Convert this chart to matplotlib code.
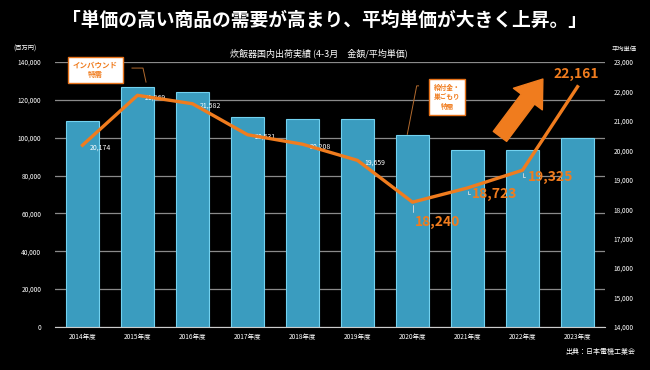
import matplotlib
matplotlib.use('Agg')
import matplotlib.pyplot as plt
from matplotlib.ticker import FuncFormatter

plt.rcParams['font.family'] = ['Noto Sans CJK JP', 'DejaVu Sans']

years = ['2014年度', '2015年度', '2016年度', '2017年度', '2018年度',
         '2019年度', '2020年度', '2021年度', '2022年度', '2023年度']
amount = [109000, 127000, 124200, 111200, 110100, 110100, 101600, 93500, 93500, 100000]  # 百万円
unit_price = [20174, 21869, 21582, 20531, 20208, 19659, 18240, 18723, 19325, 22161]  # 円

orange = '#f07c1e'
x = list(range(len(years)))

fig = plt.figure(figsize=(6.5, 3.7), dpi=100, facecolor='black')
ax = fig.add_axes([0.0846, 0.1162, 0.8462, 0.7162])
ax.set_facecolor('black')

ax.bar(x, amount, width=0.6, color='#3a9cbf', edgecolor='#72d2f0', linewidth=0.8, zorder=2)
ax.set_xlim(-0.5, 9.5)
ax.set_ylim(0, 140000)
ax.set_yticks(range(0, 140001, 20000))
ax.yaxis.set_major_formatter(FuncFormatter(lambda v, p: f'{int(v):,}'))
ax.yaxis.grid(True, color='#8a8a8a', lw=0.9)
ax.set_axisbelow(True)
for s in ['top', 'left', 'right']:
    ax.spines[s].set_visible(False)
ax.spines['bottom'].set_color('#cccccc')
ax.tick_params(axis='y', length=0, colors='white', labelsize=4.7, pad=10)
ax.set_xticks(x, years)
ax.tick_params(axis='x', length=0, colors='white', labelsize=4.7, pad=4)

ax2 = ax.twinx()
ax2.set_ylim(14000, 23000)
ax2.set_yticks(range(14000, 23001, 1000))
ax2.yaxis.set_major_formatter(FuncFormatter(lambda v, p: f'{int(v):,}'))
ax2.tick_params(axis='y', length=0, colors='white', labelsize=4.7, pad=6)
for s in ax2.spines.values():
    s.set_visible(False)
ax2.plot(x, unit_price, color=orange, lw=2.4, zorder=5, solid_joinstyle='round')

# small white value labels
for i in range(6):
    ax2.annotate(f'{unit_price[i]:,}', (x[i], unit_price[i]), xytext=(5, -1.5),
                 textcoords='offset points', color='white', fontsize=5, va='center')

# orange value labels with leader lines
offsets = {6: (2, -14), 7: (3.5, -4.5), 8: (4, -5)}
for i, off in offsets.items():
    ax2.annotate(f'{unit_price[i]:,}', (x[i], unit_price[i]), xytext=off,
                 textcoords='offset points', color=orange, fontsize=10, fontweight='bold',
                 va='center', ha='left',
                 arrowprops=dict(arrowstyle='-', color='#dddddd', lw=0.6, shrinkA=0, shrinkB=2,
                                 connectionstyle='angle,angleA=0,angleB=90,rad=0'))
ax2.annotate(f'{unit_price[9]:,}', (x[9], unit_price[9]), xytext=(-1, 9),
             textcoords='offset points', color=orange, fontsize=10, fontweight='bold',
             va='center', ha='center')

# big rising arrow
ax.annotate('', xy=(8.37, 131000), xytext=(7.59, 100700),
            arrowprops=dict(arrowstyle='simple,head_length=1.8,head_width=2.6,tail_width=1.2',
                            color=orange, mutation_scale=10, shrinkA=0, shrinkB=0), zorder=6)

# callout boxes
box = dict(boxstyle='square,pad=0.7', fc='white', ec='#e8731a', lw=1)
fig.text(0.147, 0.811, 'インバウンド\n特需', color=orange, fontsize=5.4, fontweight='bold',
         ha='center', va='center', linespacing=1.3, bbox=box)
fig.text(0.688, 0.738, '給付金・\n巣ごもり\n特需', color=orange, fontsize=4.8, fontweight='bold',
         ha='center', va='center', linespacing=1.4, bbox=box)
ax.plot([0.9, 1.1, 1.155], [136800, 136800, 129400], color='#b36b2e', lw=0.7, zorder=3)
ax.plot([6.11, 6.076, 5.905], [127400, 127400, 101800], color='#b36b2e', lw=0.7, zorder=3)

# titles and units
fig.text(0.5, 0.945, '「単価の高い商品の需要が高まり、平均単価が大きく上昇。」', color='white',
         fontsize=13.5, fontweight='bold', ha='center', va='center')
fig.text(0.49, 0.857, '炊飯器国内出荷実績 (4-3月　金額/平均単価)', color='white',
         fontsize=6.5, ha='center', va='center')
fig.text(0.02, 0.868, '(百万円)', color='white', fontsize=4.5, va='center')
fig.text(0.96, 0.868, '平均単価', color='white', fontsize=4.5, va='center', ha='center')
fig.text(0.977, 0.048, '出典：日本電機工業会', color='white', fontsize=5, va='center', ha='right')

fig.savefig('out.png', dpi=100, facecolor='black')
